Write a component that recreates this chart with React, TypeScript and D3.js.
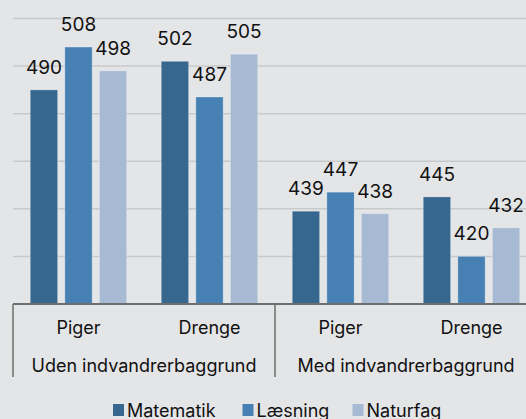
import React from "react";
import * as d3 from "d3";

const groups = ["Uden indvandrerbaggrund", "Med indvandrerbaggrund"];
const genders = ["Piger", "Drenge"];
const series = ["Matematik", "Læsning", "Naturfag"];
const colors = ["#37678f", "#4781b4", "#a7bad4"];
// values[group][gender][series]
const udenValues = [[490, 508, 498], [502, 487, 505]];
const medValues = [[439, 447, 438], [445, 420, 432]];
const yTicks = [400, 420, 440, 460, 480, 500, 520];

const W = 526;
const H = 419;
const FONT = "Inter, 'Noto Sans', sans-serif";
const legendX = [113, 242.5, 352.5];

export default function App() {
  const left = 13;
  const right = 537;
  const top = 18.5;
  const bottom = 304;

  const y = d3.scaleLinear().domain([400, 520]).range([bottom, top]);
  const xGroup = d3.scaleBand<string>().domain(groups).range([left, right]);
  const xGender = d3.scaleBand<string>().domain(genders).range([0, xGroup.bandwidth()]);
  const xSeries = d3
    .scaleBand<string>()
    .domain(series)
    .range([0, xGender.bandwidth()])
    .paddingInner(0.21)
    .paddingOuter(0.5);

  const allValues = [udenValues, medValues];
  const legendSize = 18;
  const sq = 11;

  return (
    <svg width={W} height={H} style={{ position: "absolute", left: 0, top: 0, background: "#e4e5e7" }}>
      <rect x={0} y={0} width={W} height={H} fill="#e4e5e7" />
      {yTicks.slice(1).map((t) => (
        <line key={t} x1={left} x2={right} y1={y(t)} y2={y(t)} stroke="#c8c9cb" strokeWidth={1.5} />
      ))}
      {groups.map((g, gi) =>
        genders.map((gen, ki) =>
          series.map((s, si) => {
            const v = allValues[gi][ki][si];
            const bx = (xGroup(g) as number) + (xGender(gen) as number) + (xSeries(s) as number);
            const bw = xSeries.bandwidth();
            return (
              <g key={`${g}-${gen}-${s}`}>
                <rect
                  x={bx}
                  y={y(v)}
                  width={bw}
                  height={bottom - y(v)}
                  fill={colors[si]}
                  stroke="rgba(255,255,255,0.25)"
                  strokeWidth={1}
                />
                <text
                  x={bx + bw / 2}
                  y={y(v) - 16}
                  textAnchor="middle"
                  fontFamily={FONT}
                  fontSize={19}
                  fill="#111"
                >
                  {v}
                </text>
              </g>
            );
          })
        )
      )}
      <line x1={left} x2={right} y1={bottom} y2={bottom} stroke="#6e6e6e" strokeWidth={2} />
      {[left, (xGroup(groups[1]) as number), right].map((x, i) => (
        <line key={i} x1={x} x2={x} y1={bottom} y2={377} stroke="#6e6e6e" strokeWidth={1.5} />
      ))}
      {groups.map((g) =>
        genders.map((gen) => (
          <text
            key={`${g}-${gen}`}
            x={(xGroup(g) as number) + (xGender(gen) as number) + xGender.bandwidth() / 2}
            y={333.5}
            textAnchor="middle"
            fontFamily={FONT}
            fontSize={18}
            fill="#111"
          >
            {gen}
          </text>
        ))
      )}
      {groups.map((g) => (
        <text
          key={g}
          x={(xGroup(g) as number) + xGroup.bandwidth() / 2}
          y={371.5}
          textAnchor="middle"
          fontFamily={FONT}
          fontSize={18}
          fill="#111"
        >
          {g}
        </text>
      ))}
      {series.map((s, i) => (
        <g key={s}>
          <rect x={legendX[i]} y={404} width={sq} height={sq + 1} fill={colors[i]} />
          <text x={legendX[i] + 14} y={416.5} fontFamily={FONT} fontSize={legendSize} fill="#111">
            {s}
          </text>
        </g>
      ))}
    </svg>
  );
}
